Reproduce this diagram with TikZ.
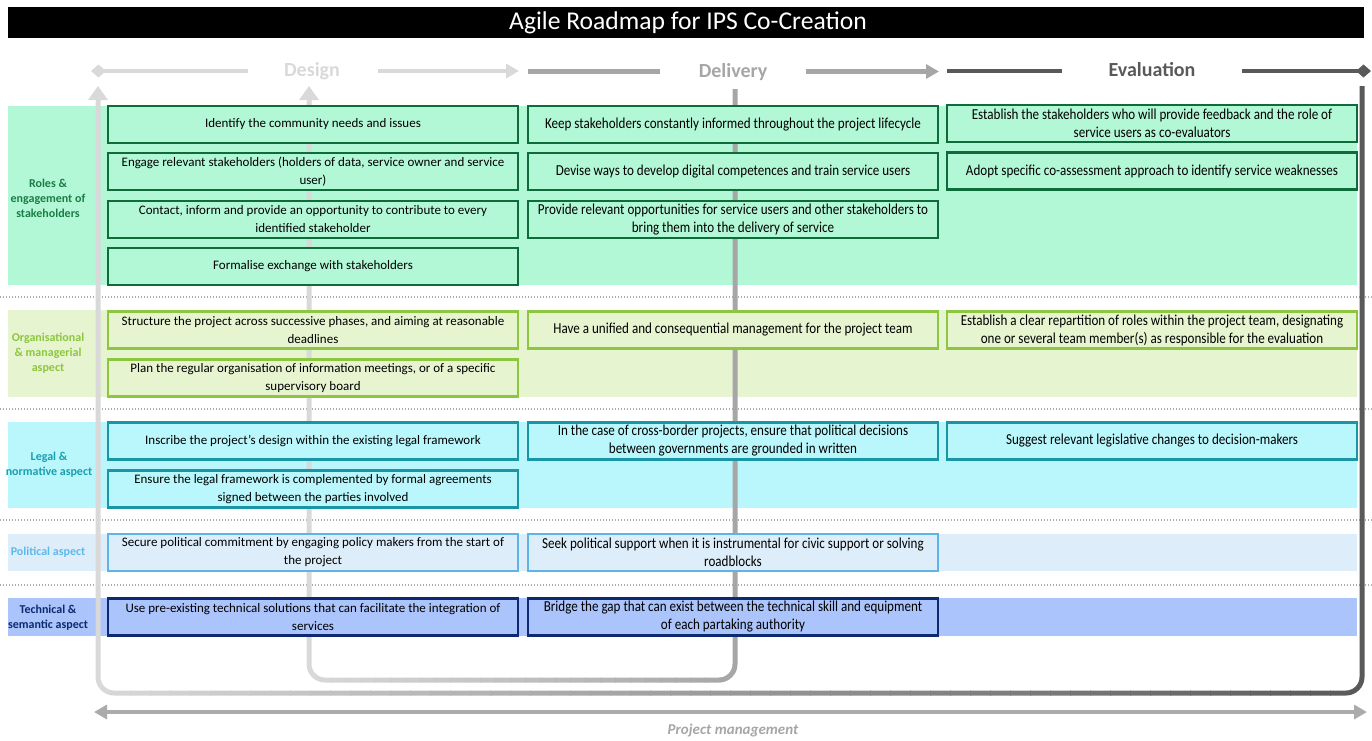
\documentclass[tikz,border=0pt]{standalone}
\usepackage{fontspec}
\setmainfont{Carlito}
\newfontfamily\narrowfont[FakeStretch=0.86]{Carlito}
\usetikzlibrary{arrows.meta}

\definecolor{gD}{HTML}{D9D9D9}
\definecolor{gM}{HTML}{A6A6A6}
\definecolor{gK}{HTML}{595959}
\definecolor{gB}{HTML}{ABABAB}
\definecolor{bandA}{HTML}{B3F8D6}
\definecolor{brdA}{HTML}{0E6B3A}
\definecolor{lblA}{HTML}{1A7D45}
\definecolor{bandB}{HTML}{E6F5D0}
\definecolor{brdB}{HTML}{8DC63F}
\definecolor{lblB}{HTML}{8DC63F}
\definecolor{bandC}{HTML}{B9F7FC}
\definecolor{brdC}{HTML}{1896A6}
\definecolor{lblC}{HTML}{1A9FB0}
\definecolor{bandD}{HTML}{DDEEFA}
\definecolor{brdD}{HTML}{5DB4E8}
\definecolor{lblD}{HTML}{5DB8EE}
\definecolor{bandE}{HTML}{ABC4FC}
\definecolor{brdE}{HTML}{0D2A70}
\definecolor{lblE}{HTML}{0D2A70}
\definecolor{dotC}{HTML}{ABABAB}

\begin{document}
\begin{tikzpicture}[x=1pt,y=-1pt,
  sepline/.style={draw=dotC,line width=1.4pt,dash pattern=on 1.2pt off 1.8pt},
  cwide/.style={minimum width=410pt,minimum height=37pt,inner sep=0pt,align=center,
    line width=2.5pt,font=\fontsize{13}{18}\selectfont},
  cnarrow/.style={cwide,font=\narrowfont\fontsize{15.2}{18}\selectfont},
  rowA/.style={fill=bandA,draw=brdA},
  rowB/.style={fill=bandB,draw=brdB},
  rowC/.style={fill=bandC,draw=brdC},
  rowD/.style={fill=bandD,draw=brdD},
  rowE/.style={fill=bandE,draw=brdE},
  lbl/.style={align=center,font=\bfseries\fontsize{12}{15}\selectfont,text=#1},
  phase/.style={font=\bfseries\fontsize{20}{24}\selectfont,text=#1},
  phln/.style={draw=#1,line width=4.5pt},
  looptip/.style={-{Triangle[length=14pt,width=19pt]}},
  ptri/.style={-{Triangle[length=13pt,width=14pt]}},
]
\useasboundingbox (0,0) rectangle (1372,740);

% ---------- row bands ----------
\fill[bandA] (8,106) rectangle (1357,285);
\fill[bandB] (8,310) rectangle (1357,397);
\fill[bandC] (8,422) rectangle (1357,508);
\fill[bandD] (8,534) rectangle (1357,571);
\fill[bandE] (8,598) rectangle (1357,636);

% ---------- dotted separators ----------
\foreach \yy in {297,409,520,585} \draw[sepline] (0,\yy) -- (1372,\yy);

% ---------- loops ----------
\coordinate (oA) at (98,101);
\coordinate (oTip) at (98,86);
\coordinate (oB) at (98,693);
\coordinate (oC) at (1362,693);
\coordinate (oD) at (1362,86);
\coordinate (iA) at (309,101);
\coordinate (iTip) at (309,86);
\coordinate (iB) at (309,680);
\coordinate (iC) at (735,680);
\coordinate (iD) at (735,89);

\foreach \i in {0,...,63}{
  \pgfmathsetmacro{\xa}{90+\i*20}
  \pgfmathsetmacro{\xb}{\xa+21}
  \pgfmathtruncatemacro{\myt}{max(0,min(100,round((\xa+10-98)/12.64)))}
  \begin{scope}
    \clip (\xa,0) rectangle (\xb,740);
    \draw[line width=5pt,draw=gK!\myt!gD,rounded corners=16pt] (oA) -- (oB) -- (oC) -- (oD);
  \end{scope}
}
\foreach \i in {0,...,29}{
  \pgfmathsetmacro{\xa}{300+\i*15}
  \pgfmathsetmacro{\xb}{\xa+16}
  \pgfmathtruncatemacro{\myt}{max(0,min(100,round((\xa+7.5-309)/4.26)))}
  \begin{scope}
    \clip (\xa,0) rectangle (\xb,740);
    \draw[line width=5pt,draw=gM!\myt!gD,rounded corners=16pt] (iA) -- (iB) -- (iC) -- (iD);
  \end{scope}
}
\draw[gD,line width=5pt,looptip] (oA) -- (oTip);
\draw[gD,line width=5pt,looptip] (iA) -- (iTip);

% ---------- row A ----------
\node[cwide,rowA] (a11) at (313,124.5) {Identify the community needs and issues};
\node[cwide,rowA] (a12) at (313,171.5) {Engage relevant stakeholders (holders of data, service owner and service\\user)};
\node[cwide,rowA] (a13) at (313,219.5) {Contact, inform and provide an opportunity to contribute to every\\identified stakeholder};
\node[cwide,rowA] (a14) at (313,266.5) {Formalise exchange with stakeholders};
\node[cnarrow,rowA] (a21) at (733,124.5) {Keep stakeholders constantly informed throughout the project lifecycle};
\node[cnarrow,rowA] (a22) at (733,171.5) {Devise ways to develop digital competences and train service users};
\node[cnarrow,rowA] (a23) at (733,219.5) {Provide relevant opportunities for service users and other stakeholders to\\bring them into the delivery of service};
\node[cnarrow,rowA] (a31) at (1152,123.5) {Establish the stakeholders who will provide feedback and the role of\\service users as co-evaluators};
\node[cnarrow,rowA] (a32) at (1152,171) {Adopt specific co-assessment approach to identify service weaknesses};

% ---------- row B ----------
\node[cwide,rowB] (b11) at (313,330) {Structure the project across successive phases, and aiming at reasonable\\deadlines};
\node[cwide,rowB] (b12) at (313,378) {Plan the regular organisation of information meetings, or of a specific\\supervisory board};
\node[cnarrow,rowB] (b21) at (733,330) {Have a unified and consequential management for the project team};
\node[cnarrow,rowB] (b31) at (1152,330) {Establish a clear repartition of roles within the project team, designating\\one or several team member(s) as responsible for the evaluation};

% ---------- row C ----------
\node[cwide,rowC] (c11) at (313,441) {Inscribe the project’s design within the existing legal framework};
\node[cwide,rowC] (c12) at (313,489) {Ensure the legal framework is complemented by formal agreements\\signed between the parties involved};
\node[cnarrow,rowC] (c21) at (733,441) {In the case of cross-border projects, ensure that political decisions\\between governments are grounded in written};
\node[cnarrow,rowC] (c31) at (1152,441) {Suggest relevant legislative changes to decision-makers};

% ---------- row D ----------
\node[cwide,rowD] (d11) at (313,552.5) {Secure political commitment by engaging policy makers from the start of\\the project};
\node[cnarrow,rowD] (d21) at (733,552.5) {Seek political support when it is instrumental for civic support or solving\\roadblocks};

% ---------- row E ----------
\node[cwide,rowE] (e11) at (313,617) {Use pre-existing technical solutions that can facilitate the integration of\\services};
\node[cnarrow,rowE] (e21) at (733,617) {Bridge the gap that can exist between the technical skill and equipment\\of each partaking authority};

% ---------- row labels ----------
\node[lbl=lblA] (lA) at (48,198) {Roles \&\\engagement of\\stakeholders};
\node[lbl=lblB] (lB) at (48,353) {Organisational\\\& managerial\\aspect};
\node[lbl=lblC] (lC) at (49,465) {Legal \&\\normative aspect};
\node[lbl=lblD] (lD) at (48,552) {Political aspect};
\node[lbl=lblE] (lE) at (48,618) {Technical \&\\semantic aspect};

% ---------- title ----------
\fill[black] (8,7) rectangle (1364,38);
\node[text=white,font=\fontsize{25.6}{30}\selectfont] (title) at (688,22.5) {Agile Roadmap for IPS Co-Creation};

% ---------- phases ----------
\node[phase=gD] (design) at (312,71) {Design};
\node[phase=gM] (delivery) at (733,72) {Delivery};
\node[phase=gK] (evaluation) at (1152,70) {Evaluation};

\coordinate (p1) at (91,71);
\coordinate (p2) at (248,71);
\coordinate (p3) at (378,71);
\coordinate (p4) at (519,71);
\coordinate (p5) at (528,71.5);
\coordinate (p6) at (660,71.5);
\coordinate (p7) at (806,71.5);
\coordinate (p8) at (939,71.5);
\coordinate (p9) at (947,71);
\coordinate (p10) at (1062,71);
\coordinate (p11) at (1242,71);
\coordinate (p12) at (1371,71);
\draw[phln=gD,{Diamond[length=15pt,width=13pt]}-] (p1) -- (p2);
\draw[phln=gD,ptri] (p3) -- (p4);
\draw[phln=gM] (p5) -- (p6);
\draw[phln=gM,ptri] (p7) -- (p8);
\draw[phln=gK] (p9) -- (p10);
\draw[phln=gK,-{Diamond[length=15pt,width=13pt]}] (p11) -- (p12);

% ---------- project management ----------
\coordinate (pm1) at (94,712);
\coordinate (pm2) at (1367,712);
\draw[draw=gB,line width=4pt,{Triangle[length=13pt,width=14pt]}-{Triangle[length=13pt,width=14pt]}] (pm1) -- (pm2);
\node[font=\bfseries\itshape\fontsize{15}{18}\selectfont,text=gM] (pm) at (733,730) {Project management};
\end{tikzpicture}
\end{document}
